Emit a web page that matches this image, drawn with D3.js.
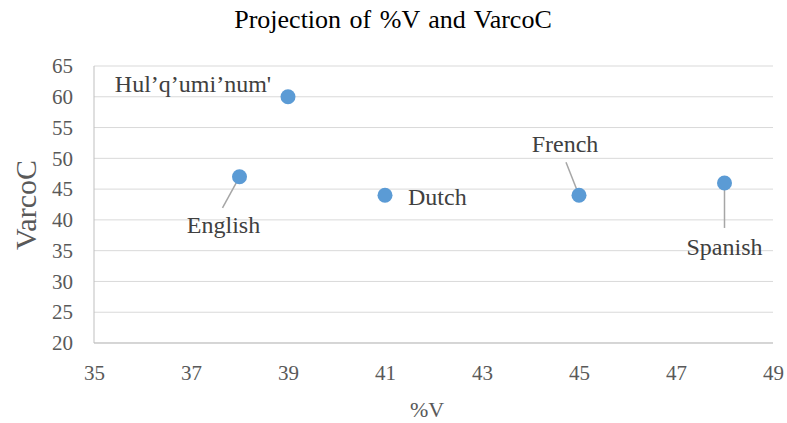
<!DOCTYPE html>
<html>
<head>
<meta charset="utf-8">
<script src="https://cdn.jsdelivr.net/npm/d3@7"></script>
<style>
  body { margin: 0; background: #fff; }
  svg text { font-family: "Liberation Serif", "Times New Roman", serif; }
</style>
</head>
<body>
<div id="chart"></div>
<script>
const languages = ["Hul’q’umi’num'", "English", "Dutch", "French", "Spanish"];
const percentV = [39, 38, 41, 45, 48];
const varcoC = [60, 47, 44, 44, 46];
const xTicks = [35, 37, 39, 41, 43, 45, 47, 49];
const yTicks = [20, 25, 30, 35, 40, 45, 50, 55, 60, 65];

// label offsets relative to each point (px); lx/ly = end of leader line
const labelPos = [
    { dx: -95, dy: -13, anchor: "middle" },
    { dx: -16, dy: 48, anchor: "middle", lx: -17, ly: 31 },
    { dx: 23, dy: 1, anchor: "start" },
    { dx: -14, dy: -52, anchor: "middle", lx: -13, ly: -33 },
    { dx: 0, dy: 64, anchor: "middle", lx: 0, ly: 45 }
];

const width = 787, height = 423;
const margin = { top: 66, right: 14, bottom: 80, left: 94 };
const fontFamily = "'Liberation Serif', 'Times New Roman', serif";

const svg = d3.select("#chart")
    .append("svg")
    .attr("width", width)
    .attr("height", height);

const x = d3.scaleLinear().domain([35, 49]).range([margin.left, width - margin.right]);
const y = d3.scaleLinear().domain([20, 65]).range([height - margin.bottom, margin.top]);

// gridlines
svg.append("g")
    .selectAll("line")
    .data(yTicks)
    .enter()
    .append("line")
    .attr("x1", x(35))
    .attr("x2", x(49))
    .attr("y1", d => y(d))
    .attr("y2", d => y(d))
    .attr("stroke", "#d9d9d9")
    .attr("stroke-width", 1);

// axis lines
svg.append("line")
    .attr("x1", x(35)).attr("x2", x(35))
    .attr("y1", y(20)).attr("y2", y(65))
    .attr("stroke", "#bfbfbf");

svg.append("line")
    .attr("x1", x(35)).attr("x2", x(49))
    .attr("y1", y(20)).attr("y2", y(20))
    .attr("stroke", "#bfbfbf");

const yAxis = svg.append("g")
    .attr("transform", `translate(${x(35) - 21},0)`)
    .call(d3.axisLeft(y).tickValues(yTicks).tickSize(0).tickPadding(0));
yAxis.attr("font-family", fontFamily).attr("font-size", 21);
yAxis.select(".domain").remove();
yAxis.selectAll("text").attr("fill", "#595959");

const xAxis = svg.append("g")
    .attr("transform", `translate(0,${y(20) + 22})`)
    .call(d3.axisBottom(x).tickValues(xTicks).tickSize(0).tickPadding(0));
xAxis.attr("font-family", fontFamily).attr("font-size", 21);
xAxis.select(".domain").remove();
xAxis.selectAll("text").attr("fill", "#595959");

// titles
svg.append("text")
    .attr("x", 393)
    .attr("y", 28)
    .attr("text-anchor", "middle")
    .attr("font-size", "26px")
    .attr("word-spacing", "2px")
    .attr("fill", "#000")
    .text("Projection of %V and VarcoC");

svg.append("text")
    .attr("x", 427)
    .attr("y", 417)
    .attr("text-anchor", "middle")
    .attr("font-size", "22px")
    .attr("fill", "#595959")
    .text("%V");

svg.append("text")
    .attr("transform", "translate(36,205) rotate(-90)")
    .attr("text-anchor", "middle")
    .attr("font-size", "30px")
    .attr("fill", "#595959")
    .text("VarcoC");

const pts = languages.map((name, i) => ({ name, v: percentV[i], c: varcoC[i], pos: labelPos[i] }));

// leader lines
svg.append("g")
    .selectAll("line")
    .data(pts.filter(d => d.pos.lx !== undefined))
    .enter()
    .append("line")
    .attr("x1", d => x(d.v))
    .attr("y1", d => y(d.c))
    .attr("x2", d => x(d.v) + d.pos.lx)
    .attr("y2", d => y(d.c) + d.pos.ly)
    .attr("stroke", "#a6a6a6")
    .attr("stroke-width", 1.5);

// points
svg.append("g")
    .selectAll("circle")
    .data(pts)
    .enter()
    .append("circle")
    .attr("cx", d => x(d.v))
    .attr("cy", d => y(d.c))
    .attr("r", 7.5)
    .attr("fill", "#5b9bd5");

// labels
svg.append("g")
    .selectAll("text")
    .data(pts)
    .enter()
    .append("text")
    .attr("x", d => x(d.v) + d.pos.dx)
    .attr("y", d => y(d.c) + d.pos.dy)
    .attr("dy", "0.35em")
    .attr("text-anchor", d => d.pos.anchor)
    .attr("font-size", "24px")
    .attr("fill", "#404040")
    .text(d => d.name);
</script>
</body>
</html>
